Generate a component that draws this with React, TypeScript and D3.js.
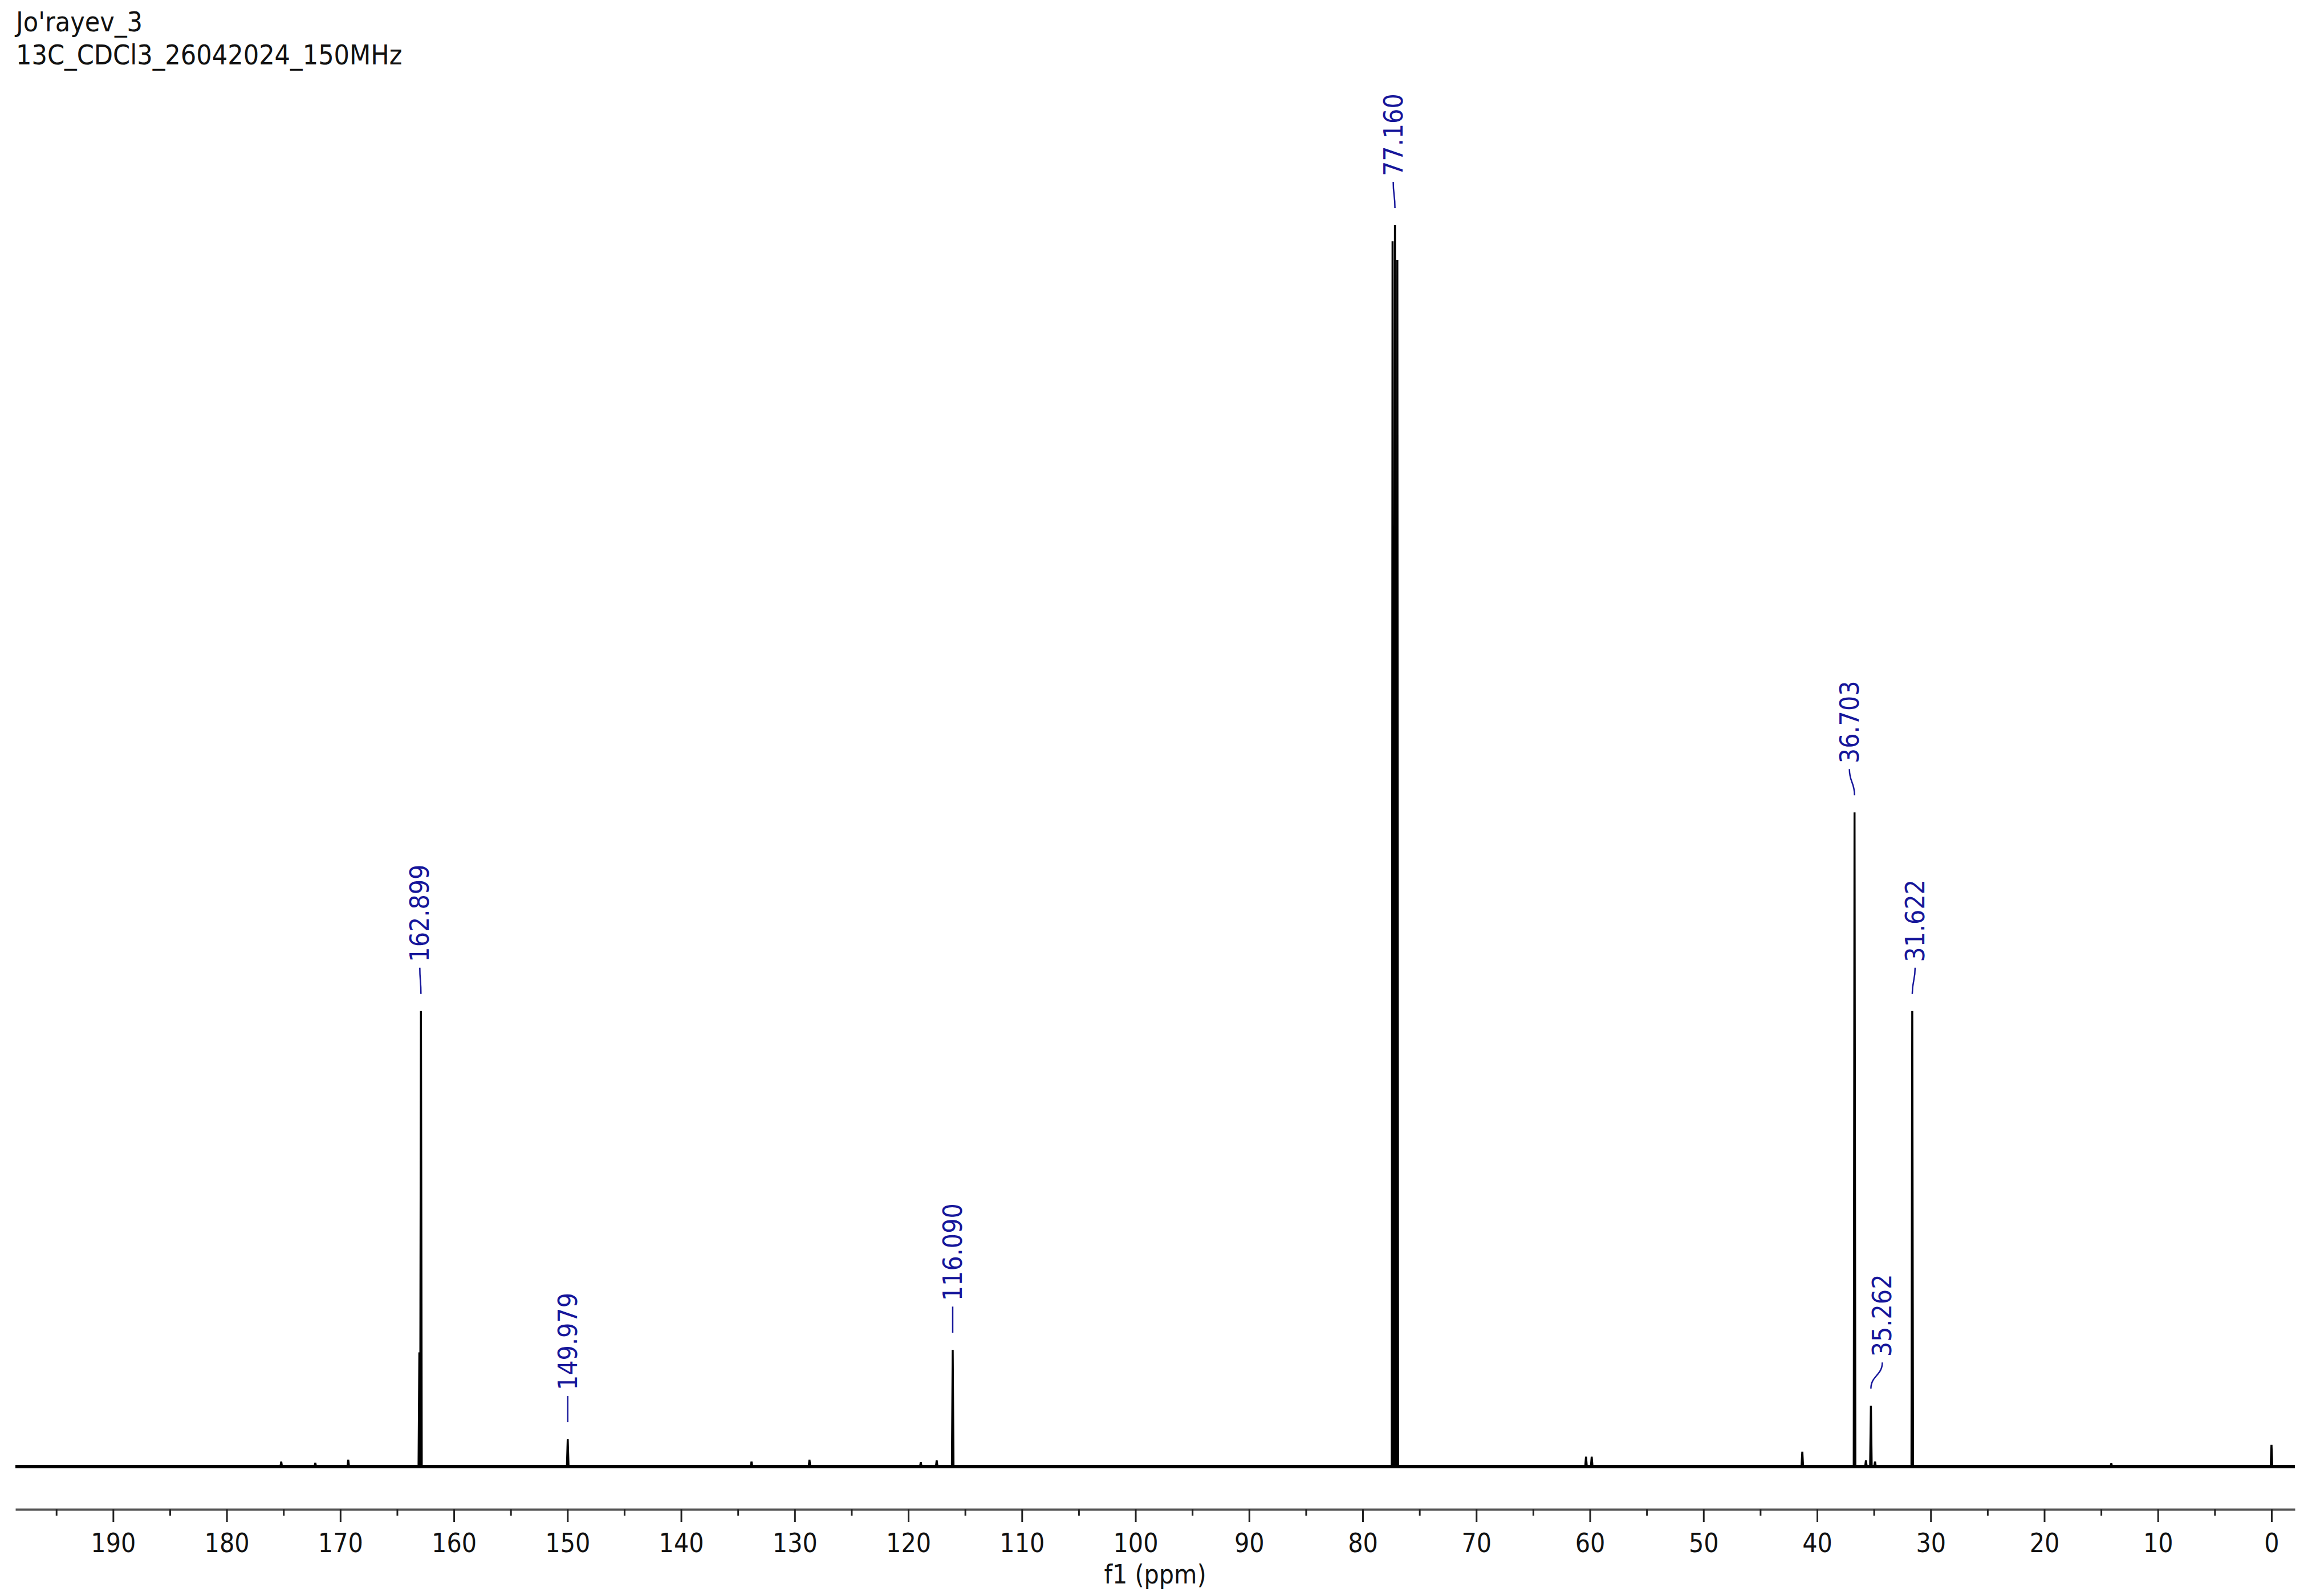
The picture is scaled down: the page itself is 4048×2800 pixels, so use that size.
import React, { useRef, useEffect } from "react";
import * as d3 from "d3";

// header text
const titleLines = ["Jo'rayev_3", "13C_CDCl3_26042024_150MHz"];
const axisTitle = "f1 (ppm)";

// axis ticks (ppm)
const majorTicks = [190, 180, 170, 160, 150, 140, 130, 120, 110, 100, 90, 80, 70, 60, 50, 40, 30, 20, 10, 0];
const minorTicks = [195, 185, 175, 165, 155, 145, 135, 125, 115, 105, 95, 85, 75, 65, 55, 45, 35, 25, 15, 5];

// peak list (ppm, relative height)
const peakPpm = [175.2, 172.2, 169.3, 163.04, 162.899, 149.979, 133.8, 128.7, 118.9, 117.5, 116.09, 77.37, 77.16, 76.95, 60.34, 59.84, 41.3, 36.703, 35.7, 35.262, 34.9, 31.622, 14.1, 0.0];
const peakHeight = [0.4, 0.3, 0.55, 9.2, 36.7, 2.2, 0.4, 0.55, 0.35, 0.5, 9.4, 98.7, 100, 97.2, 0.8, 0.8, 1.2, 52.7, 0.5, 4.9, 0.4, 36.7, 0.25, 1.75];

// annotated peaks
const labelPpm = [162.899, 149.979, 116.09, 77.16, 36.703, 35.262, 31.622];
const labelText = ["162.899", "149.979", "116.090", "77.160", "36.703", "35.262", "31.622"];

// layout
const W = 4048;
const H = 2800;
const labelShift = [-2, 0, 0, -3, -9, 20, 5];
const FONT = "'DejaVu Sans Condensed', 'DejaVu Sans', sans-serif";
const BLUE = "#16169a";

const App = () => {
  const ref = useRef<SVGSVGElement>(null);

  useEffect(() => {
    const svg = d3.select(ref.current);
    svg.selectAll("*").remove();

    const x = d3.scaleLinear().domain([198.6, -2.06]).range([27, 4025]);
    const y = d3.scaleLinear().domain([0, 100]).range([2573, 395]);

    // titles
    svg.selectAll(".title")
      .data(titleLines)
      .enter()
      .append("text")
      .attr("x", 28)
      .attr("y", (d, i) => 55 + i * 58)
      .attr("font-family", FONT)
      .attr("font-size", 48)
      .attr("fill", "#111")
      .text(d => d);

    // spectrum as stick peaks on a baseline
    const hw = 0.07;
    const order = d3.range(peakPpm.length).sort((a, b) => peakPpm[b] - peakPpm[a]);
    const pts: [number, number][] = [[198.6, 0]];
    order.forEach(i => {
      pts.push([peakPpm[i] + hw, 0], [peakPpm[i], peakHeight[i]], [peakPpm[i] - hw, 0]);
    });
    pts.push([-2.06, 0]);

    svg.append("line")
      .attr("x1", x(198.6)).attr("x2", x(-2.06))
      .attr("y1", y(0)).attr("y2", y(0))
      .attr("stroke", "#111").attr("stroke-width", 6);

    svg.append("path")
      .attr("d", d3.line<[number, number]>().x(d => x(d[0])).y(d => y(d[1]))(pts))
      .attr("fill", "none")
      .attr("stroke", "#000")
      .attr("stroke-width", 3.5)
      .attr("stroke-linejoin", "miter");

    // axis
    const axisY = 2648;
    const major = svg.append("g")
      .attr("transform", `translate(0, ${axisY})`)
      .call(d3.axisBottom(x).tickValues(majorTicks).tickSize(22).tickSizeOuter(0).tickPadding(20).tickFormat(d3.format("d")));
    major.select(".domain").attr("stroke", "#555").attr("stroke-width", 4);
    major.selectAll(".tick line").attr("stroke", "#222").attr("stroke-width", 3);
    major.selectAll(".tick text").attr("font-family", FONT).attr("font-size", 46).attr("fill", "#111");

    const minor = svg.append("g")
      .attr("transform", `translate(0, ${axisY})`)
      .call(d3.axisBottom(x).tickValues(minorTicks).tickSize(11).tickSizeOuter(0).tickFormat(() => ""));
    minor.select(".domain").remove();
    minor.selectAll(".tick line").attr("stroke", "#222").attr("stroke-width", 3);

    svg.append("text")
      .attr("x", (x(198.6) + x(-2.06)) / 2)
      .attr("y", 2778)
      .attr("text-anchor", "middle")
      .attr("font-family", FONT)
      .attr("font-size", 46)
      .attr("fill", "#111")
      .text(axisTitle);

    // peak labels with connectors
    labelPpm.forEach((p, i) => {
      const k = peakPpm.indexOf(p);
      const top = y(peakHeight[k]);
      const px = x(p);
      const lx = px + labelShift[i];
      const textBottom = top - 86;
      const c1 = textBottom + 10;
      const c2 = top - 30;
      const mid = (c1 + c2) / 2;
      const d = lx === px
        ? `M${px},${c1}L${px},${c2}`
        : `M${lx},${c1}C${lx},${mid} ${px},${mid} ${px},${c2}`;
      svg.append("path")
        .attr("d", d)
        .attr("fill", "none")
        .attr("stroke", BLUE)
        .attr("stroke-width", 2.5);
      svg.append("text")
        .attr("transform", `translate(${lx + 16}, ${textBottom}) rotate(-90)`)
        .attr("font-family", FONT)
        .attr("font-size", 46)
        .attr("fill", BLUE)
        .text(labelText[i]);
    });
  }, []);

  return (
    <svg
      ref={ref}
      width={W}
      height={H}
      style={{ position: "absolute", left: 0, top: 0, background: "#fff" }}
    />
  );
};

export default App;
